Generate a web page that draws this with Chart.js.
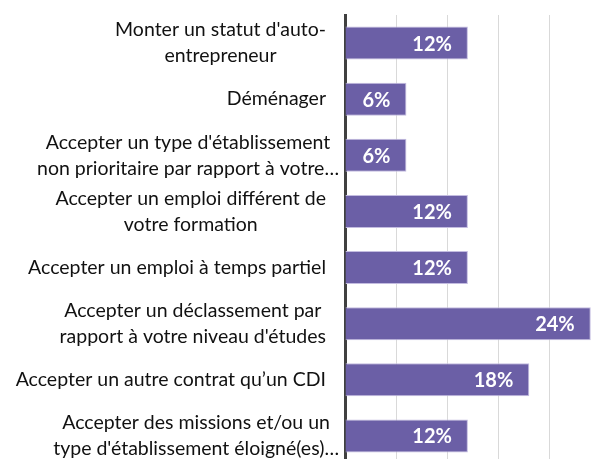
<!DOCTYPE html>
<html>
<head>
<meta charset="utf-8">
<script src="https://cdn.jsdelivr.net/npm/chart.js@4/dist/chart.umd.min.js"></script>
<style>
  html, body { margin: 0; padding: 0; background: #fff; overflow: hidden; }
  #wrap { position: absolute; left: 0; top: 0; width: 610px; height: 470px; }
</style>
</head>
<body>
<div id="wrap"><canvas id="myChart" width="610" height="470"></canvas></div>
<script>
// categories (top to bottom), already wrapped as in the picture
var categories = [
    ["Monter un statut d'auto-", "entrepreneur"],
    ["Déménager"],
    ["Accepter un type d'établissement", "non prioritaire par rapport à votre…"],
    ["Accepter un emploi différent de", "votre formation"],
    ["Accepter un emploi à temps partiel"],
    ["Accepter un déclassement par", "rapport à votre niveau d'études"],
    ["Accepter un autre contrat qu’un CDI"],
    ["Accepter des missions et/ou un", "type d'établissement éloigné(es)…"]
];
var values = [12, 6, 6, 12, 12, 24, 18, 12];
var xTicks = [0, 5, 10, 15, 20, 25];

var labelFont = '19.5px Lato, "Open Sans", sans-serif';
var valueFont = 'bold 20px Lato, "Open Sans", sans-serif';

// ve nhan gia tri ben trong thanh
var valueLabels = {
    id: 'valueLabels',
    afterDatasetsDraw: function(chart) {
        var ctx = chart.ctx;
        var meta = chart.getDatasetMeta(0);
        ctx.save();
        ctx.font = valueFont;
        ctx.fillStyle = '#ffffff';
        ctx.textAlign = 'right';
        ctx.textBaseline = 'middle';
        meta.data.forEach(function(bar, i) {
            ctx.fillText(values[i] + '%', bar.x - 16, bar.y + 1);
        });
        ctx.restore();
    }
};

// nhan danh muc: cac dong can giua trong khoi, khoi can phai
var categoryLabels = {
    id: 'categoryLabels',
    afterDraw: function(chart) {
        var ctx = chart.ctx;
        var yScale = chart.scales.y;
        var lineH = 26;
        ctx.save();
        ctx.font = labelFont;
        ctx.fillStyle = '#111111';
        ctx.textAlign = 'center';
        ctx.textBaseline = 'middle';
        categories.forEach(function(lines, i) {
            var w = 0;
            lines.forEach(function(l) { w = Math.max(w, ctx.measureText(l).width); });
            var truncated = lines.some(function(l) { return l.endsWith('…'); });
            var right = truncated ? 339 : 326;
            var cx = right - w / 2;
            var cy = yScale.getPixelForValue(i);
            var top = cy - (lines.length - 1) * lineH / 2;
            lines.forEach(function(l, k) {
                ctx.fillText(l, cx, top + k * lineH);
            });
        });
        ctx.restore();
    }
};

new Chart('myChart', {
    type: 'bar',
    data: {
        labels: categories,
        datasets: [{
            data: values,
            backgroundColor: '#6B5FA6',
            borderColor: '#C3BCE0',
            borderWidth: 1,
            barPercentage: 0.59,
            categoryPercentage: 1
        }]
    },
    options: {
        indexAxis: 'y',
        responsive: false,
        animation: false,
        layout: { padding: { top: 15, right: 9, bottom: 6, left: 0 } },
        plugins: {
            legend: { display: false },
            tooltip: { enabled: false }
        },
        scales: {
            x: {
                min: 0,
                max: 25,
                afterBuildTicks: function(scale) {
                    scale.ticks = xTicks.map(function(v) { return { value: v }; });
                },
                afterFit: function(scale) { scale.height = 0; },
                ticks: { display: false },
                grid: { color: '#D9D9D9', lineWidth: 1, drawTicks: false },
                border: { display: false }
            },
            y: {
                afterFit: function(scale) { scale.width = 345; },
                ticks: { display: false },
                grid: { display: false, drawTicks: false },
                border: { color: '#404040', width: 3 }
            }
        }
    },
    plugins: [valueLabels, categoryLabels]
});
</script>
</body>
</html>
